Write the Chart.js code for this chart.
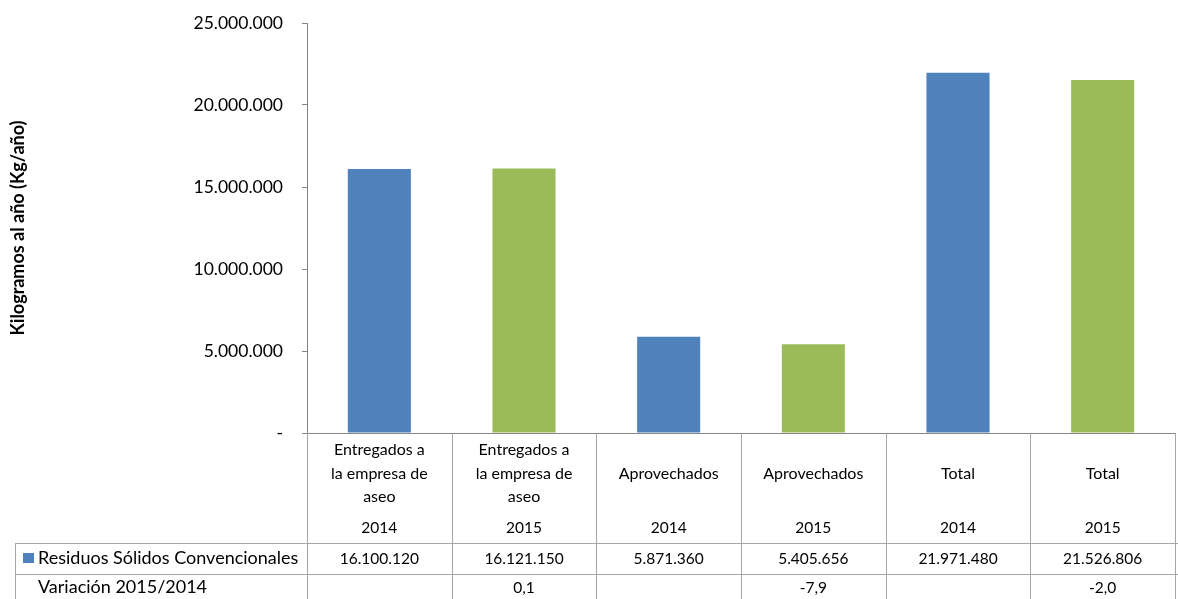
<!DOCTYPE html>
<html>
<head>
<meta charset="utf-8">
<script src="https://cdn.jsdelivr.net/npm/chart.js@4.4.1/dist/chart.umd.min.js"></script>
<style>
  html, body { margin: 0; padding: 0; background: #fff; }
  #wrap { width: 1178px; height: 599px; position: relative; }
</style>
</head>
<body>
<div id="wrap"><canvas id="c" width="1178" height="599"></canvas></div>
<script>
// ---- data ----
const categoryLines = [
  ['Entregados a', 'la empresa de', 'aseo'],
  ['Entregados a', 'la empresa de', 'aseo'],
  ['Aprovechados'],
  ['Aprovechados'],
  ['Total'],
  ['Total']
];
const years = ['2014', '2015', '2014', '2015', '2014', '2015'];
const seriesName = 'Residuos Sólidos Convencionales';
const seriesValues = [16100120, 16121150, 5871360, 5405656, 21971480, 21526806];
const variationName = 'Variación 2015/2014';
const variationValues = ['', '0,1', '', '-7,9', '', '-2,0'];
const yTicks = [0, 5000000, 10000000, 15000000, 20000000, 25000000];
const yTitle = 'Kilogramos al año (Kg/año)';

// ---- styles ----
const yearColors = { '2014': '#4F81BD', '2015': '#9BBB59' };
const FONT = 'Lato, "Open Sans", sans-serif';
const lineColor = '#A6A6A6';
const axisColor = '#868686';

function fmt(v) {
  return String(Math.round(v)).replace(/\B(?=(\d{3})+(?!\d))/g, '.');
}

const tablePlugin = {
  id: 'dataTable',
  afterDraw(chart) {
    const ctx = chart.ctx;
    const xs = chart.scales.x;
    const area = chart.chartArea;
    const n = seriesValues.length;
    const w = (xs.getPixelForValue(1) - xs.getPixelForValue(0));
    const top = area.bottom;
    const row1Top = 543, row2Top = 574, bottom = chart.height;
    const leftEdge = 15;
    ctx.save();
    ctx.strokeStyle = lineColor;
    ctx.lineWidth = 1;
    for (let i = 0; i <= n; i++) {
      const x = Math.round(xs.getPixelForValue(0) - w / 2 + i * w) + 0.5;
      ctx.beginPath();
      ctx.moveTo(x, top);
      ctx.lineTo(x, bottom);
      ctx.stroke();
    }
    ctx.beginPath();
    ctx.moveTo(leftEdge + 0.5, row1Top);
    ctx.lineTo(leftEdge + 0.5, bottom);
    ctx.stroke();
    [row1Top, row2Top].forEach(y => {
      ctx.beginPath();
      ctx.moveTo(leftEdge, y + 0.5);
      ctx.lineTo(chart.width, y + 0.5);
      ctx.stroke();
    });
    ctx.fillStyle = '#000';
    ctx.textAlign = 'center';
    ctx.textBaseline = 'middle';
    const lh = 23.5, blockCenter = 473.5;
    for (let i = 0; i < n; i++) {
      const cx = xs.getPixelForValue(i);
      const lines = categoryLines[i];
      const start = blockCenter - (lines.length - 1) * lh / 2;
      ctx.font = '16px ' + FONT;
      lines.forEach((t, k) => ctx.fillText(t, cx, start + k * lh));
      ctx.font = '15.5px ' + FONT;
      ctx.fillText(years[i], cx, 528);
      ctx.fillText(fmt(seriesValues[i]), cx, 558.5);
      ctx.fillText(variationValues[i], cx, 587.5);
    }
    ctx.textAlign = 'left';
    ctx.fillStyle = yearColors['2014'];
    ctx.fillRect(23, 553, 11, 10);
    ctx.fillStyle = '#000';
    ctx.font = '18px ' + FONT;
    ctx.fillText(seriesName, 38, 558.5);
    ctx.fillText(variationName, 38, 587.5);
    ctx.restore();
  }
};

new Chart(document.getElementById('c'), {
  type: 'bar',
  data: {
    labels: categoryLines.map(l => l.join(' ')),
    datasets: [{
      label: seriesName,
      data: seriesValues,
      backgroundColor: years.map(y => yearColors[y]),
      barPercentage: 0.436,
      categoryPercentage: 1.0
    }]
  },
  options: {
    responsive: false,
    animation: false,
    layout: { padding: { top: 23, right: 3, left: 0, bottom: 0 } },
    plugins: { legend: { display: false }, tooltip: { enabled: false } },
    scales: {
      x: {
        grid: { display: false, drawTicks: false },
        ticks: { display: false },
        border: { display: true, color: axisColor, width: 1 },
        afterFit(s) { s.height = 166; }
      },
      y: {
        min: 0, max: 25000000,
        afterBuildTicks(s) { s.ticks = yTicks.map(v => ({ value: v })); },
        ticks: {
          padding: 19,
          color: '#000',
          font: { family: FONT, size: 17.5 },
          callback: v => v === 0 ? '-' : fmt(v)
        },
        grid: { drawOnChartArea: false, drawTicks: true, tickLength: 5, color: axisColor },
        border: { display: true, color: axisColor, width: 1 },
        title: {
          display: true,
          text: yTitle,
          color: '#000',
          font: { family: FONT, size: 18, weight: 'bold' },
          padding: { top: 7, bottom: 0 }
        },
        afterFit(s) { s.width = 307; s.paddingTop = 0; s.paddingBottom = 0; }
      }
    }
  },
  plugins: [tablePlugin]
});
</script>
</body>
</html>
